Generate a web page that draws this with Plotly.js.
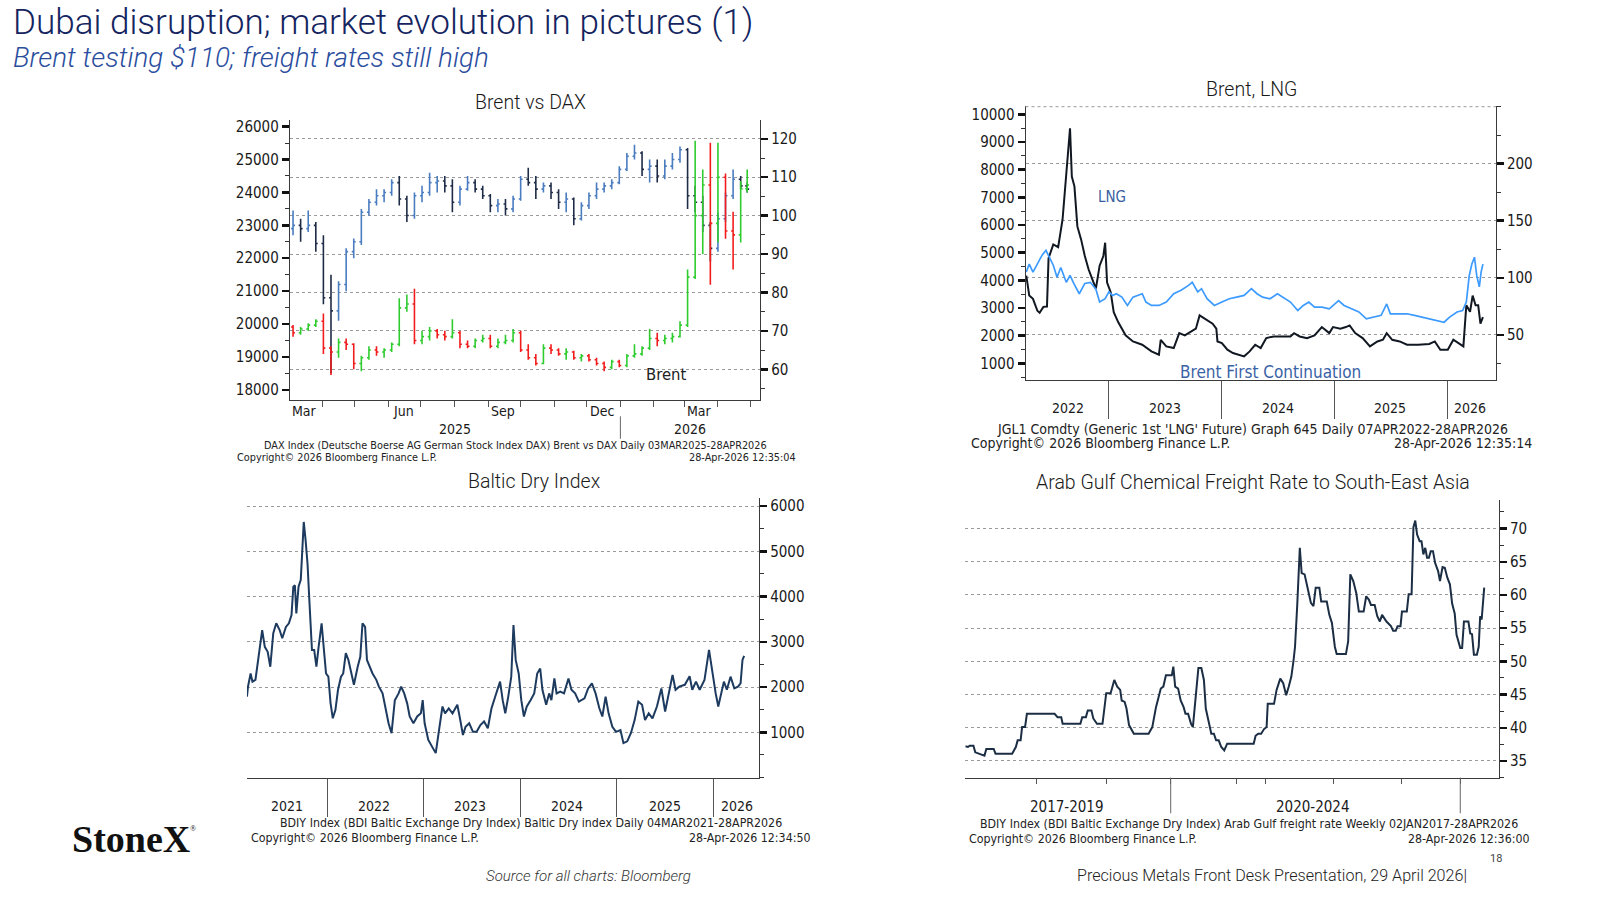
<!DOCTYPE html>
<html><head><meta charset="utf-8">
<script src="https://cdn.plot.ly/plotly-3.0.1.min.js"></script>
<style>html,body{margin:0;padding:0;background:#fff;}#chart{width:1600px;height:900px;}</style>
</head><body><div id="chart"></div>
<script>
// ===== Chart 1: Brent vs DAX (weekly OHLC) =====
const weekDates = ['2025-03-05','2025-03-12','2025-03-19','2025-03-26','2025-04-02','2025-04-09','2025-04-16','2025-04-23','2025-04-30','2025-05-07','2025-05-14','2025-05-21','2025-05-28','2025-06-04','2025-06-11','2025-06-18','2025-06-25','2025-07-02','2025-07-09','2025-07-16','2025-07-23','2025-07-30','2025-08-06','2025-08-13','2025-08-20','2025-08-27','2025-09-03','2025-09-10','2025-09-17','2025-09-24','2025-10-01','2025-10-08','2025-10-15','2025-10-22','2025-10-29','2025-11-05','2025-11-12','2025-11-19','2025-11-26','2025-12-03','2025-12-10','2025-12-17','2025-12-24','2025-12-31','2026-01-07','2026-01-14','2026-01-21','2026-01-28','2026-02-04','2026-02-11','2026-02-18','2026-02-25','2026-03-04','2026-03-11','2026-03-18','2026-03-25','2026-04-01','2026-04-08','2026-04-15','2026-04-22','2026-04-28'];
const daxFirstOpen = 22900;
const daxHigh = [23450,23200,23450,23100,22700,21500,21300,22300,22600,23500, 23800,24100,24100,24400,24500,23900,24000,24200,24600,24500, 24500,24400,24200,24500,24400,24200,23950,23800,23800,23900, 24500,24750,24500,24300,24300,24100,24000,23850,23700,24000, 24300,24300,24400,24800,25200,25450,25250,25000,25000,25000, 25200,25400,25350,24200,23900,23100,23400,24000,24700,24500, 24300];
const daxLow = [22700,22500,22800,22200,20600,18500,20100,21000,22000,22400, 23300,23600,23700,23900,23600,23100,23200,23700,23900,24000, 24000,23400,23600,24050,24000,23800,23400,23400,23300,23400, 23750,24200,23800,24000,23800,23500,23400,23000,23150,23500, 23800,24000,24100,24250,24650,25000,24500,24300,24300,24400, 24700,24900,23500,23400,22800,21900,22200,23100,23800,24100, 24000];
const daxClose = [23000,22900,23000,22450,20800,20400,21200,22200,22500,23400, 23700,23900,24000,24300,23800,23300,23900,24000,24300,24350, 24200,23700,24100,24300,24100,23900,23600,23650,23500,23800, 24400,24300,24100,24200,24000,23700,23800,23200,23600,23900, 24100,24200,24300,24700,25100,25200,24700,24800,24500,24800, 25000,25300,23900,23700,23000,22300,23200,23900,24400,24200, 24100];
const brentFirstOpen = 71;
const brentHigh = [71.5,71,72,73,74.5,66,68,68,66.8,63.5, 66,66,65.5,67,78.5,79.5,81,70,71,70.5, 70,73,70,67.5,68,69,69,68,69,70.5, 70,66.5,64,66.5,66.5,65.5,65.5,64.8,64,64, 63,62,62.5,62.5,64,66.5,66,70.5,69.5,69, 69.5,72.5,86,119.5,112,119,119,111,101,109, 112];
const brentLow = [68.5,69,70,71,64,58.5,63,65,60,59.5, 62.5,63.5,63,64.5,66,75,66.5,66.5,67.5,68, 67.5,68,65.5,65.5,65.5,67,65.5,65.5,66.5,67, 64.5,62.5,61,61.3,64,63.5,62.5,62.5,62,62, 61,59.5,60,60.5,60.5,63,63.5,65,66,66.5, 67,68.3,71,83.5,90,82,93,94,86,93, 106];
const brentClose = [69.5,70.5,71.5,72.5,65.5,64.5,67,66.5,61.5,63, 65,64.5,65,66.5,76,77,67.5,68.5,70,69, 68.5,69.5,66.5,66,67.5,68,66,67,67.5,69.5, 65,63,61.5,65.5,65,64,64.5,63,63.5,62.5, 61.5,60.5,62,61,63.5,64,65.5,68,67.5,68, 68.5,71.5,84,100,108,98,110,96,95,107, 108];
const c1MonthStarts = ['2025-04-01','2025-05-01','2025-06-01','2025-07-01','2025-08-01','2025-09-01','2025-10-01','2025-11-01','2025-12-01','2026-01-01','2026-02-01','2026-03-01','2026-04-01','2026-05-01'];
const c1MonthLabelPos = ['2025-03-16','2025-06-15','2025-09-15','2025-12-15','2026-03-15'];
const c1MonthLabels = ['Mar','Jun','Sep','Dec','Mar'];
const c1YearLabelPos = ['2025-08-01','2026-03-06'];
const c1YearLabels = ['2025','2026'];
const c1YearSeparators = ['2026-01-01'];
const daxTicks = [18000,19000,20000,21000,22000,23000,24000,25000,26000];
const brentTicks = [60,70,80,90,100,110,120];

// ===== Chart 2: Brent, LNG =====
const lngX = [2022.269,2022.295,2022.328,2022.367,2022.387,2022.420,2022.452,2022.466,2022.508,2022.551,
 2022.590,2022.623,2022.656,2022.672,2022.695,2022.721,2022.754,2022.787,2022.820,2022.852,
 2022.885,2022.918,2022.951,2022.967,2022.984,2023.016,2023.043,2023.082,2023.148,2023.213,
 2023.295,2023.377,2023.443,2023.459,2023.508,2023.574,2023.623,2023.672,2023.738,2023.770,
 2023.803,2023.852,2023.918,2023.951,2023.961,2024.000,2024.049,2024.098,2024.148,2024.197,
 2024.246,2024.295,2024.344,2024.393,2024.459,2024.525,2024.607,2024.639,2024.689,2024.754,
 2024.820,2024.885,2024.951,2024.984,2025.049,2025.098,2025.131,2025.180,2025.246,2025.311,
 2025.377,2025.426,2025.459,2025.508,2025.574,2025.639,2025.738,2025.836,2025.885,2025.934,
 2026.000,2026.049,2026.098,2026.138,2026.164,2026.197,2026.220,2026.246,2026.269,2026.289,2026.311];
const lngY = [4170,3450,3330,2900,2830,3040,3050,4800,5300,5200,
 6200,7750,9500,7750,7400,5950,5480,4880,4400,4050,
 3700,4530,4880,5360,3920,3570,2850,2490,2010,1790,
 1670,1430,1310,1850,1610,1550,2090,2010,2190,2250,
 2730,2610,2430,2250,1790,1730,1490,1370,1310,1250,
 1430,1670,1550,1910,1970,1970,1970,2090,1970,1910,
 2010,2310,2090,2310,2250,2310,2370,2090,1910,1610,
 1790,1850,2090,1850,1790,1670,1670,1700,1790,1490,
 1490,1850,1700,1610,3100,2860,3450,3100,3100,2430,2670];
const brentContX = [2022.269,2022.295,2022.328,2022.361,2022.410,2022.443,2022.475,2022.508,2022.541,2022.574,
 2022.623,2022.656,2022.689,2022.738,2022.787,2022.836,2022.885,2022.918,2022.967,2023.000,
 2023.033,2023.066,2023.115,2023.164,2023.213,2023.262,2023.295,2023.328,2023.377,2023.443,
 2023.508,2023.574,2023.639,2023.705,2023.738,2023.787,2023.820,2023.869,2023.934,2024.000,
 2024.066,2024.131,2024.197,2024.262,2024.311,2024.361,2024.426,2024.492,2024.541,2024.607,
 2024.672,2024.721,2024.770,2024.820,2024.885,2024.951,2025.033,2025.082,2025.148,2025.213,
 2025.279,2025.344,2025.410,2025.459,2025.492,2025.574,2025.639,2025.705,2025.770,2025.836,
 2025.902,2025.967,2026.016,2026.082,2026.131,2026.164,2026.190,2026.213,2026.236,2026.256,
 2026.279,2026.295,2026.311];
const brentContY = [105,112,105,111,120,124,118,111,100.5,109,
 96,102,95,86,95,96,90,78.7,81.6,87.6,
 84.5,86,83,75.7,83,84.5,86,78.7,75.7,75.7,
 78.7,86,89,93.3,96,87.6,90.4,81.6,75.7,78.7,
 81.6,83,84.5,90.4,86,83,81.6,86,83,78.7,
 71.3,75.7,78.7,74.3,74.3,72.8,80,75.7,72.8,70,
 64,65.5,67,77,68.4,68.4,68.4,67,65.5,64,
 62.6,61,65.5,70,71.3,78.7,102,112,118,102,
 92,105,112];
const c2YearSeparators = [2023,2024,2025,2026];
const c2YearLabelPos = [2022.64,2023.495,2024.495,2025.49,2026.2];
const c2YearLabels = ['2022','2023','2024','2025','2026'];
const lngTicks = [1000,2000,3000,4000,5000,6000,7000,8000,9000,10000];
const brent2Ticks = [50,100,150,200];
const brent2TopGrid = [250];

// ===== Chart 3: Baltic Dry Index =====
const bdiX = [2021.168,2021.179,2021.206,2021.225,2021.256,2021.287,2021.326,2021.353,2021.383,2021.410,
 2021.441,2021.472,2021.507,2021.534,2021.572,2021.603,2021.630,2021.649,2021.665,2021.680,
 2021.703,2021.726,2021.757,2021.776,2021.796,2021.815,2021.842,2021.865,2021.888,2021.911,
 2021.942,2021.969,2021.988,2022.012,2022.035,2022.058,2022.085,2022.112,2022.143,2022.166,
 2022.193,2022.220,2022.250,2022.277,2022.316,2022.343,2022.366,2022.393,2022.412,2022.443,
 2022.470,2022.509,2022.536,2022.574,2022.605,2022.636,2022.667,2022.701,2022.740,2022.767,
 2022.798,2022.829,2022.855,2022.894,2022.933,2022.971,2022.990,2023.010,2023.048,2023.087,
 2023.125,2023.164,2023.195,2023.222,2023.260,2023.299,2023.349,2023.376,2023.407,2023.434,
 2023.472,2023.511,2023.549,2023.588,2023.626,2023.665,2023.703,2023.742,2023.792,2023.819,
 2023.846,2023.877,2023.908,2023.931,2023.954,2023.985,2024.012,2024.039,2024.069,2024.108,
 2024.146,2024.177,2024.208,2024.231,2024.270,2024.301,2024.324,2024.355,2024.378,2024.416,
 2024.455,2024.501,2024.532,2024.570,2024.609,2024.667,2024.705,2024.744,2024.782,2024.821,
 2024.852,2024.886,2024.917,2024.956,2024.994,2025.040,2025.071,2025.110,2025.148,2025.187,
 2025.225,2025.264,2025.295,2025.333,2025.372,2025.418,2025.464,2025.503,2025.541,2025.580,
 2025.611,2025.649,2025.707,2025.757,2025.784,2025.823,2025.861,2025.911,2025.958,2025.996,
 2026.027,2026.054,2026.081,2026.112,2026.143,2026.181,2026.220,2026.258,2026.285,2026.305,2026.322];
const bdiY = [1790,2010,2300,2120,2160,2670,3260,2890,2780,2450,
 3190,3410,3260,3080,3330,3410,3590,4220,4250,3630,
 4220,4370,5650,5250,4730,3920,2820,2820,2450,2890,
 3410,2750,2300,2230,1640,1310,1490,1940,2230,2300,
 2750,2600,2300,2050,2450,2670,3410,3330,2600,2450,
 2300,2160,2010,1860,1490,1200,980,1710,1860,2010,
 1860,1640,1350,1200,1350,1420,1710,1200,830,680,
 540,1120,1570,1420,1530,1420,1610,1310,940,1120,
 1200,1010,1010,1160,1240,1090,1530,1790,2120,1710,
 1420,1790,2230,3370,2600,2300,1710,1350,1570,1710,
 1860,2300,2410,1940,1610,1860,1710,2190,1860,1900,
 1860,2190,1940,1860,1680,1750,1970,2080,1860,1530,
 1350,1790,1420,1120,1010,1050,760,800,980,1270,
 1680,1610,1270,1420,1310,1570,1970,1460,1860,2270,
 1940,2010,2050,2240,1940,2120,1940,2160,2820,2230,
 1860,1570,1860,2120,1940,2230,1970,2010,2080,2600,2690];
const c3YearSeparators = [2022,2023,2024,2025,2026];
const c3YearLabelPos = [2021.58,2022.49,2023.48,2024.49,2025.50,2026.25];
const c3YearLabels = ['2021','2022','2023','2024','2025','2026'];
const bdiTicks = [1000,2000,3000,4000,5000,6000];

// ===== Chart 4: Arab Gulf Chemical Freight Rate =====
const frX = [2017.003,2017.049,2017.082,2017.149,2017.182,2017.248,2017.314,2017.347,2017.380,2017.513,
 2017.546,2017.844,2017.910,2017.943,2017.996,2018.023,2018.076,2018.109,2018.606,2018.659,
 2018.725,2018.751,2019.069,2019.102,2019.168,2019.202,2019.268,2019.301,2019.367,2019.466,
 2019.500,2019.533,2019.612,2019.678,2019.731,2019.784,2019.811,2019.864,2019.897,2019.943,
 2020.029,2020.294,2020.360,2020.427,2020.513,2020.559,2020.605,2020.711,2020.738,2020.771,
 2020.824,2020.870,2020.923,2020.956,2021.003,2021.056,2021.089,2021.122,2021.155,2021.188,
 2021.241,2021.287,2021.321,2021.374,2021.420,2021.466,2021.506,2021.552,2021.599,2021.652,
 2021.705,2022.181,2022.215,2022.261,2022.314,2022.367,2022.413,2022.433,2022.546,2022.592,
 2022.658,2022.711,2022.764,2022.811,2022.857,2022.897,2022.923,2022.963,2023.009,2023.042,
 2023.095,2023.142,2023.208,2023.254,2023.294,2023.360,2023.393,2023.493,2023.539,2023.585,
 2023.638,2023.671,2023.837,2023.877,2023.916,2023.969,2024.022,2024.069,2024.155,2024.201,
 2024.248,2024.287,2024.353,2024.400,2024.446,2024.486,2024.565,2024.645,2024.685,2024.731,
 2024.764,2024.817,2024.843,2024.930,2024.963,2025.016,2025.049,2025.082,2025.115,2025.161,
 2025.194,2025.227,2025.261,2025.294,2025.327,2025.360,2025.400,2025.439,2025.492,2025.526,
 2025.572,2025.612,2025.658,2025.704,2025.744,2025.790,2025.823,2025.857,2025.890,2025.923,
 2025.956,2026.036,2026.069,2026.101,2026.135,2026.188,2026.221,2026.247,2026.274,2026.320];
const frY = [37.2,37.1,37.3,37.3,36.3,36.1,35.8,35.8,36.8,36.8,
 36.1,36.1,37.1,38.1,38.1,40.1,40.1,42.1,42.1,41.6,
 41.6,40.6,40.6,41.6,41.6,42.6,42.6,41.4,40.6,40.6,
 42.9,45.2,45.2,47.2,46.2,45.7,44.1,43.9,42.9,40.4,
 39.1,39.1,40.1,43.1,45.9,46.2,47.9,47.9,49.2,46.2,
 45.9,44.1,43.1,42.1,42.1,40.6,40.1,43.1,46.2,49.0,
 49.0,47.2,42.9,40.6,39.1,39.1,38.1,38.1,37.1,36.6,
 37.6,37.6,38.8,39.1,39.1,39.8,40.1,43.6,43.6,45.7,
 47.4,46.7,44.9,46.2,47.7,50.2,52.2,58.5,67.1,63.3,
 63.1,61.3,58.8,58.3,61.1,61.1,59.0,59.0,57.0,55.8,
 52.2,51.1,51.1,53.0,63.1,62.1,60.3,57.5,57.5,59.8,
 59.3,58.5,58.5,56.8,56.0,57.0,56.0,55.3,54.6,54.6,
 55.3,55.3,57.5,57.5,60.1,60.1,70.2,71.2,69.1,68.1,
 68.1,66.1,67.1,65.6,65.6,66.6,66.6,64.8,63.6,62.1,
 64.2,64.1,62.6,61.6,58.7,57.2,54.0,53.0,52.0,52.0,
 56.0,56.0,54.2,54.1,51.0,51.0,52.2,56.8,56.3,61.1];
const c4TickPos = [2018.274,2019.533,2020.691,2021.870,2022.400,2023.618,2024.830,2025.890];
const c4LongSeparators = [2020.691,2025.890];
const c4LabelPos = [2018.837,2023.254];
const c4Labels = ['2017-2019','2020-2024'];
const frTicks = [35,40,45,50,55,60,65,70];

// ===== helpers (styling / positioning only) =====
const W = 1600, H = 900, S = 1600 / 1568;
const px = v => v * S / W, py = v => 1 - v * S / H;
const BB = 'DejaVu Sans Condensed, Liberation Sans Narrow, DejaVu Sans, sans-serif';
const UI = 'Roboto, Inter, "Open Sans", sans-serif';
const tickFont = {family: BB, size: 15, color: '#1a1a1a'};
const axisColor = '#3a3a3a';
const grid = {showgrid: true, gridcolor: '#9a9a9a', griddash: 'dot', gridwidth: 1};
const minorOf = d => ({tickmode: 'linear', tick0: 0, dtick: d, ticks: 'outside', ticklen: 4, tickwidth: 1, tickcolor: '#333', showgrid: false});
function yAx(o) { return Object.assign({showline: true, linecolor: axisColor, linewidth: 1, ticks: 'outside', ticklen: 7, tickwidth: 2.5, tickcolor: '#111', tickfont: tickFont, tickformat: 'd', zeroline: false, showgrid: false, fixedrange: true, tickmode: 'array'}, o); }
function xAx(o) { return Object.assign({showline: true, linecolor: axisColor, linewidth: 1, ticks: 'outside', tickcolor: '#555', tickwidth: 1, showticklabels: false, zeroline: false, showgrid: false, fixedrange: true, tickmode: 'array'}, o); }

const daxOpen = [daxFirstOpen].concat(daxClose.slice(0, -1));
const brentOpen = [brentFirstOpen].concat(brentClose.slice(0, -1));

const traces = [
  {type: 'ohlc', x: weekDates, open: daxOpen, high: daxHigh, low: daxLow, close: daxClose, xaxis: 'x', yaxis: 'y',
   increasing: {line: {color: '#4a7cc0', width: 1.6}}, decreasing: {line: {color: '#1e2c47', width: 1.6}}, tickwidth: 0.3, hoverinfo: 'skip'},
  {type: 'ohlc', x: weekDates, open: brentOpen, high: brentHigh, low: brentLow, close: brentClose, xaxis: 'x', yaxis: 'y2',
   increasing: {line: {color: '#2fcc2f', width: 1.6}}, decreasing: {line: {color: '#f21c1c', width: 1.6}}, tickwidth: 0.3, hoverinfo: 'skip'},
  {type: 'scatter', mode: 'lines', x: lngX, y: lngY, xaxis: 'x2', yaxis: 'y3', line: {color: '#111822', width: 2}, hoverinfo: 'skip'},
  {type: 'scatter', mode: 'lines', x: brentContX, y: brentContY, xaxis: 'x2', yaxis: 'y4', line: {color: '#3d9bff', width: 1.7}, hoverinfo: 'skip'},
  {type: 'scatter', mode: 'lines', x: bdiX, y: bdiY, xaxis: 'x3', yaxis: 'y5', line: {color: '#1d3a5f', width: 2}, hoverinfo: 'skip'},
  {type: 'scatter', mode: 'lines', x: frX, y: frY, xaxis: 'x4', yaxis: 'y6', line: {color: '#1c2e44', width: 2}, hoverinfo: 'skip'}
];

const ann = [];
function txt(x, y, text, font, xanchor, yanchor) {
  ann.push({xref: 'paper', yref: 'paper', x: px(x), y: py(y), text: text, showarrow: false,
            xanchor: xanchor || 'center', yanchor: yanchor || 'middle', font: font});
}
function axisLabels(xref, positions, labels, yPix, size) {
  positions.forEach((p, i) => ann.push({xref: xref, yref: 'paper', x: p, y: py(yPix), text: labels[i], showarrow: false,
    xanchor: 'center', yanchor: 'middle', font: {family: BB, size: size || 14, color: '#1a1a1a'}}));
}

// page header / footer
txt(11, 22, 'Dubai disruption; market evolution in pictures (1)', {family: UI, size: 35.1, weight: 300, color: '#14245f'}, 'left');
txt(11, 56, '<i>Brent testing $110; freight rates still high</i>', {family: UI, size: 27.8, weight: 300, color: '#2a4d9e'}, 'left');
txt(69, 822, '<b>StoneX</b>', {family: 'Liberation Serif, DejaVu Serif, serif', size: 38, color: '#111'}, 'left');
txt(189, 812, '®', {family: 'Liberation Serif, DejaVu Serif, serif', size: 8, color: '#111'}, 'center');
txt(577, 858, '<i>Source for all charts: Bloomberg</i>', {family: UI, size: 15, weight: 300, color: '#333'});
txt(1247, 858, 'Precious Metals Front Desk Presentation, 29 April 2026|', {family: UI, size: 16.1, weight: 300, color: '#222'});
txt(1466, 841, '18', {family: UI, size: 11, color: '#444'});

// chart titles
const titleFont = {family: UI, size: 19.5, weight: 300, color: '#1a1a1a'};
txt(520, 100, 'Brent vs DAX', titleFont);
txt(1226, 88, 'Brent, LNG', titleFont);
txt(524, 472, 'Baltic Dry Index', titleFont);
txt(1228, 473, 'Arab Gulf Chemical Freight Rate to South-East Asia', titleFont);

// in-chart labels
txt(653, 367, 'Brent', {family: BB, size: 16.5, color: '#222'});
txt(1090, 193, 'LNG', {family: BB, size: 15, color: '#3a5f9f'});
txt(1245, 365, 'Brent First Continuation', {family: BB, size: 17, color: '#3a62a6'});

// axis category labels
axisLabels('x', c1MonthLabelPos, c1MonthLabels, 403);
axisLabels('x', c1YearLabelPos, c1YearLabels, 420);
axisLabels('x2', c2YearLabelPos, c2YearLabels, 400);
axisLabels('x3', c3YearLabelPos, c3YearLabels, 790);
axisLabels('x4', c4LabelPos, c4Labels, 791, 15);

// Bloomberg footers
const f1 = {family: BB, size: 10.8, color: '#222'};
txt(505, 437, 'DAX Index (Deutsche Boerse AG German Stock Index DAX) Brent vs DAX Daily 03MAR2025-28APR2026', f1);
txt(230, 448, 'Copyright© 2026 Bloomberg Finance L.P.', f1, 'left');
txt(782, 448, '28-Apr-2026 12:35:04', f1, 'right');
const f2 = {family: BB, size: 14, color: '#222'};
txt(1227, 420, "JGL1 Comdty (Generic 1st 'LNG' Future) Graph 645 Daily 07APR2022-28APR2026", f2);
txt(950, 434, 'Copyright© 2026 Bloomberg Finance L.P.', f2, 'left');
txt(1503, 434, '28-Apr-2026 12:35:14', f2, 'right');
const f3 = {family: BB, size: 12.3, color: '#222'};
txt(520, 806.5, 'BDIY Index (BDI Baltic Exchange Dry Index) Baltic Dry index Daily 04MAR2021-28APR2026', f3);
txt(244, 821, 'Copyright© 2026 Bloomberg Finance L.P.', f3, 'left');
txt(796, 821, '28-Apr-2026 12:34:50', f3, 'right');
const f4 = {family: BB, size: 12.3, color: '#222'};
txt(1224, 807.5, 'BDIY Index (BDI Baltic Exchange Dry Index) Arab Gulf freight rate Weekly 02JAN2017-28APR2026', f4);
txt(948, 822, 'Copyright© 2026 Bloomberg Finance L.P.', f4, 'left');
txt(1500, 822, '28-Apr-2026 12:36:00', f4, 'right');

// separator lines and top gridline of chart 2
const shapes = [];
c1YearSeparators.forEach(v => shapes.push({type: 'line', xref: 'x', yref: 'paper', x0: v, x1: v, y0: py(408), y1: py(430), line: {color: '#666', width: 1}}));
c4LongSeparators.forEach(v => shapes.push({type: 'line', xref: 'x4', yref: 'paper', x0: v, x1: v, y0: py(762), y1: py(797), line: {color: '#666', width: 1}}));
brent2TopGrid.forEach(v => shapes.push({type: 'line', xref: 'paper', yref: 'y4', x0: px(1005), x1: px(1466), y0: v, y1: v, line: {color: '#9a9a9a', width: 1, dash: 'dot'}}));

const layout = {
  width: W, height: H, margin: {l: 0, r: 0, t: 0, b: 0}, autosize: false,
  paper_bgcolor: '#fff', plot_bgcolor: 'rgba(0,0,0,0)', showlegend: false, hovermode: false,
  // chart 1
  xaxis: xAx({domain: [px(284), px(745)], anchor: 'y', type: 'date', range: ['2025-03-02', '2026-05-10'],
              tickvals: c1MonthStarts, ticklen: 6, rangeslider: {visible: false}}),
  yaxis: yAx({domain: [py(392), py(118)], anchor: 'x', range: [17690, 26190], tickvals: daxTicks, minor: minorOf(500)}),
  yaxis2: yAx(Object.assign({overlaying: 'y', side: 'right', anchor: 'x', range: [52, 124.8], tickvals: brentTicks, minor: minorOf(5)}, grid)),
  // chart 2
  xaxis2: xAx({domain: [px(1005), px(1466)], anchor: 'y3', range: [2022.262, 2026.426], tickvals: c2YearSeparators, ticklen: 38}),
  yaxis3: yAx({domain: [py(372), py(104)], anchor: 'x2', range: [410, 10300], tickvals: lngTicks, minor: minorOf(500)}),
  yaxis4: yAx(Object.assign({overlaying: 'y3', side: 'right', anchor: 'x2', range: [10.7, 250.5], tickvals: brent2Ticks, minor: minorOf(25)}, grid)),
  // chart 3
  xaxis3: xAx({domain: [px(242), px(744)], anchor: 'y5', range: [2021.168, 2026.478], tickvals: c3YearSeparators, ticklen: 38}),
  yaxis5: yAx(Object.assign({domain: [py(762), py(488)], anchor: 'x3', side: 'right', range: [0, 6180], tickvals: bdiTicks, minor: minorOf(500)}, grid)),
  // chart 4
  xaxis4: xAx({domain: [px(946), px(1469)], anchor: 'y6', range: [2017.003, 2026.585], tickvals: c4TickPos, ticklen: 5}),
  yaxis6: yAx(Object.assign({domain: [py(762), py(490)], anchor: 'x4', side: 'right', range: [32.5, 74.3], tickvals: frTicks, minor: minorOf(2.5)}, grid)),
  annotations: ann,
  shapes: shapes
};

Plotly.newPlot('chart', traces, layout, {displayModeBar: false, staticPlot: true});
</script>
</body></html>
